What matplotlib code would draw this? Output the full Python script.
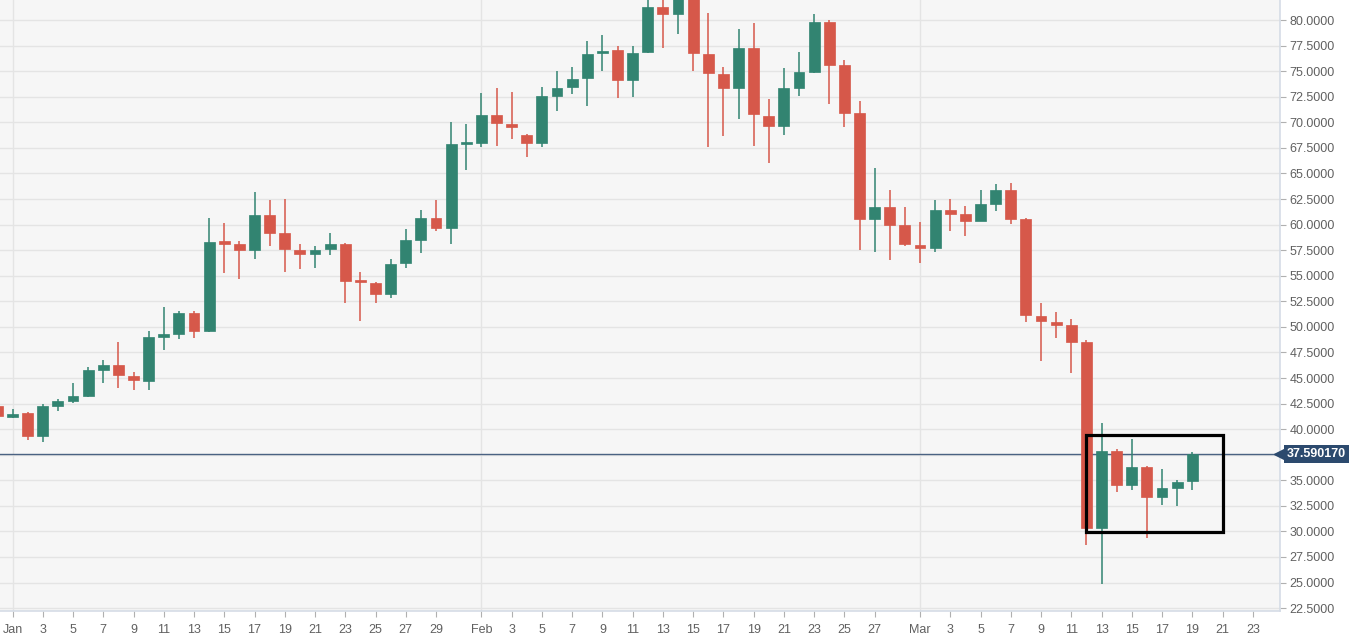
import numpy as np
import pandas as pd
import matplotlib
matplotlib.use("Agg")
import matplotlib.pyplot as plt
from matplotlib.patches import Rectangle

plt.rcParams['font.family'] = ['Liberation Sans', 'DejaVu Sans']

# daily candles, 31 Dec 2019 .. 19 Mar 2020
dates = pd.date_range("2019-12-31", "2020-03-19", freq="D")
opens = [42.3, 41.2, 41.6, 39.3, 42.25, 42.8, 43.25, 45.8, 46.3, 45.2,
         44.75, 49.0, 49.3, 51.4, 49.6, 58.3, 58.1, 57.5, 60.9, 59.2,
         57.5, 57.1, 57.6, 58.1, 54.5, 54.3, 53.25, 56.2, 58.5, 60.6,
         59.7, 67.85, 68.0, 70.75, 69.85, 68.8, 67.95, 72.6, 73.5, 74.3,
         76.75, 77.1, 74.1, 76.85, 81.3, 80.6, 83.4, 76.7, 74.75, 73.4,
         77.3, 70.65, 69.6, 73.4, 74.95, 79.8, 75.6, 70.95, 60.5, 61.7,
         60.0, 58.05, 57.7, 61.45, 61.0, 60.4, 62.05, 63.4, 60.5, 51.1,
         50.5, 50.15, 48.55, 30.3, 37.9, 34.5, 36.3, 33.4, 34.25, 34.9]
highs = [42.6, 42.0, 41.7, 42.5, 42.9, 44.5, 46.1, 46.8, 48.5, 45.6,
         49.6, 51.9, 51.6, 51.6, 60.6, 60.2, 58.35, 63.15, 62.4, 62.5,
         58.15, 57.9, 59.2, 58.2, 55.4, 54.4, 56.6, 59.6, 61.4, 62.4,
         70.05, 69.85, 72.9, 73.4, 73.0, 68.9, 73.5, 75.0, 75.45, 77.95,
         78.5, 77.5, 77.5, 82.3, 82.6, 84.0, 84.2, 80.7, 75.4, 79.1,
         79.75, 72.3, 75.3, 76.85, 80.6, 80.0, 76.1, 72.1, 65.5, 63.35,
         61.75, 60.25, 62.4, 62.5, 61.8, 63.4, 63.95, 64.05, 60.6, 52.3,
         51.5, 50.75, 48.7, 40.65, 38.05, 39.05, 36.35, 36.1, 35.0, 37.75]
lows = [41.2, 41.1, 38.9, 38.7, 41.8, 42.6, 43.1, 44.5, 44.0, 43.8,
        43.8, 47.7, 48.8, 48.9, 49.5, 55.25, 54.7, 56.65, 57.95, 55.4,
        55.7, 55.8, 57.0, 52.35, 50.6, 52.3, 52.8, 55.8, 57.2, 59.4,
        58.1, 65.3, 67.6, 67.7, 68.35, 66.65, 67.6, 71.1, 72.8, 71.6,
        75.05, 72.4, 72.5, 76.75, 77.3, 78.6, 75.05, 67.6, 68.7, 70.3,
        67.7, 66.05, 68.8, 72.6, 74.8, 71.8, 69.5, 57.55, 57.3, 56.55,
        57.95, 56.2, 57.3, 59.4, 58.9, 60.35, 61.3, 60.1, 50.5, 46.7,
        48.9, 45.5, 28.7, 24.9, 33.9, 34.05, 29.35, 32.6, 32.45, 34.05]
closes = [41.3, 41.5, 39.3, 42.3, 42.75, 43.2, 45.75, 46.3, 45.3, 44.8,
          49.0, 49.3, 51.4, 49.6, 58.3, 58.1, 57.5, 60.9, 59.2, 57.6,
          57.1, 57.5, 58.1, 54.47, 54.35, 53.25, 56.15, 58.5, 60.6, 59.7,
          67.85, 67.95, 70.75, 69.9, 69.5, 67.95, 72.55, 73.4, 74.25, 76.65,
          77.0, 74.1, 76.8, 81.3, 80.6, 83.4, 76.75, 74.8, 73.4, 77.3,
          70.8, 69.6, 73.35, 74.95, 79.8, 75.65, 70.95, 60.5, 61.7, 60.0,
          58.1, 57.7, 61.45, 61.05, 60.4, 62.05, 63.4, 60.55, 51.2, 50.6,
          50.15, 48.55, 30.3, 37.9, 34.5, 36.3, 33.4, 34.25, 34.8, 37.59017]

last_price = 37.590170
box_start, box_end = "2020-03-12", "2020-03-21"
box_low, box_high = 29.96, 39.42

up_col = "#328471"
down_col = "#d6584a"

fig = plt.figure(figsize=(13.69, 6.4), dpi=100)
ax = fig.add_axes([0, 0.045, 1280 / 1369, 0.955])
ax.set_facecolor("#f6f6f6")

t0 = pd.Timestamp("2020-01-01")
x = np.array((dates - t0).days)
o = np.array(opens)
h = np.array(highs)
l = np.array(lows)
c = np.array(closes)
cols = np.where(c >= o, up_col, down_col)

ax.vlines(x, l, h, colors=cols, linewidth=1.1, zorder=3)
bottom = np.minimum(o, c)
height = np.maximum(np.abs(c - o), 0.25)
ax.bar(x, height, bottom=bottom, width=0.72, color=cols,
       edgecolor=cols, linewidth=0.5, zorder=4)

# ticks
tick_days = pd.date_range("2020-01-01", "2020-03-23", freq="D")
tpos, tlab = [], []
for d in tick_days:
    if d.day == 1:
        tpos.append((d - t0).days)
        tlab.append(d.strftime("%b"))
    elif d.day % 2 == 1 and (d + pd.Timedelta(days=2)).month == d.month:
        tpos.append((d - t0).days)
        tlab.append(str(d.day))
ax.set_xticks(tpos)
ax.set_xticklabels(tlab)
ax.set_xlim(-0.83, 83.8)

yt = np.arange(22.5, 80.01, 2.5)
ax.set_yticks(yt)
# the last-price tag hides the label next to it
ax.set_yticklabels(["" if abs(v - last_price) < 1.2 else "%.4f" % v for v in yt])
ax.set_ylim(22.2, 81.96)
ax.yaxis.tick_right()

ax.tick_params(axis="both", colors="#b0b0b0", labelcolor="#606060",
               labelsize=9, length=4, width=0.8)
ax.tick_params(axis="y", pad=3)
ax.tick_params(axis="x", pad=5)

for s in ["top", "left"]:
    ax.spines[s].set_visible(False)
for s in ["right", "bottom"]:
    ax.spines[s].set_color("#d5dce6")
    ax.spines[s].set_linewidth(1.2)

# grid
for v in yt:
    ax.axhline(v, color="#e4e4e4", linewidth=1, zorder=0)
for m in ["2020-01-01", "2020-02-01", "2020-03-01"]:
    ax.axvline((pd.Timestamp(m) - t0).days, color="#e4e4e4", linewidth=1, zorder=0)

# last price line and label
ax.axhline(last_price, color="#4a6282", linewidth=1, zorder=2)
ax.annotate("%.6f" % last_price, xy=(1.0, last_price),
            xycoords=ax.get_yaxis_transform(), xytext=(5, 0),
            textcoords="offset points", ha="left", va="center",
            fontsize=9, fontweight="bold", color="white",
            bbox=dict(boxstyle="square,pad=0.25", fc="#2c4a6e", ec="none"),
            annotation_clip=False)
ax.plot([1.0], [last_price], marker="<", markersize=8, color="#2c4a6e",
        transform=ax.get_yaxis_transform(), clip_on=False, zorder=5)

# highlight box
bx0 = (pd.Timestamp(box_start) - t0).days
bx1 = (pd.Timestamp(box_end) - t0).days
ax.add_patch(Rectangle((bx0, box_low), bx1 - bx0, box_high - box_low,
                       fill=False, edgecolor="black", linewidth=2.3, zorder=6))

fig.savefig("out.png", dpi=100, facecolor="white")
